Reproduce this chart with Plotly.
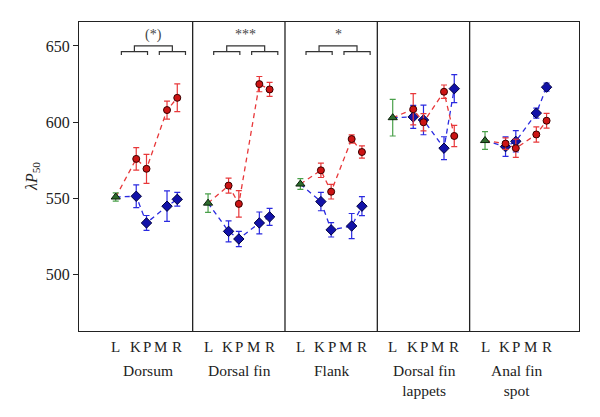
import plotly.graph_objects as go

# ---------------- data ----------------
regions = ["Dorsum", "Dorsal fin", "Flank", "Dorsal fin<br>lappets", "Anal fin<br>spot"]
letters = ["L", "K", "P", "M", "R"]
significance = ["(*)", "***", "*", "", ""]

L_mean = [551.0, 547.0, 559.5, 603.0, 588.0]
L_err = [2.7, 6.0, 3.5, 12.0, 5.8]

red_mean = [[576.0, 569.5, 608.0, 616.0],
            [558.5, 546.5, 625.0, 621.5],
            [568.5, 554.5, 589.0, 580.5],
            [608.5, 600.0, 620.0, 591.0],
            [586.0, 583.0, 592.0, 601.0]]
red_err = [[7.4, 9.5, 5.9, 9.1],
           [4.9, 8.7, 5.0, 4.6],
           [4.7, 4.8, 2.7, 4.0],
           [10.2, 5.6, 4.4, 7.0],
           [3.8, 6.0, 5.0, 4.8]]

blue_mean = [[551.5, 534.0, 545.0, 549.5],
             [528.5, 523.5, 534.0, 538.0],
             [548.0, 529.5, 532.0, 545.0],
             [603.5, 601.5, 583.0, 622.0],
             [584.0, 587.5, 606.0, 623.0]]
blue_err = [[7.5, 4.9, 10.0, 4.5],
            [6.9, 5.0, 7.2, 5.6],
            [6.0, 4.7, 8.2, 6.2],
            [7.5, 9.7, 7.5, 9.2],
            [6.4, 7.0, 3.3, 2.6]]

y_ticks = [500, 550, 600, 650]

# ---------------- layout helpers ----------------
GROUP_STEP = 9
pos_offsets = [0, 2, 3, 5, 6]             # L, K, P, M, R positions inside a group
label_offsets = [0, 1.9, 3.05, 4.4, 6.0]  # where the letters are written
FONT = "Liberation Serif"

RED_LINE = "#e8383a"
RED_FILL = "#cc1414"
BLUE_LINE = "#2a2ae0"
BLUE_FILL = "#1212a8"
GREEN_BAR = "#4aa04a"
GREEN_FILL = "#2d6b2d"

fig = go.Figure()

for g in range(len(regions)):
    base = g * GROUP_STEP
    xs = [base + o for o in pos_offsets]
    # blue series
    fig.add_trace(go.Scatter(
        x=xs, y=[L_mean[g]] + blue_mean[g], mode="lines",
        line=dict(color=BLUE_LINE, width=1.3, dash="5px,4px"),
        hoverinfo="skip", showlegend=False))
    fig.add_trace(go.Scatter(
        x=xs[1:], y=blue_mean[g], mode="markers",
        marker=dict(symbol="diamond", size=8, color=BLUE_FILL,
                    line=dict(color="#000040", width=1)),
        error_y=dict(type="data", array=blue_err[g], color=BLUE_LINE,
                     thickness=1.2, width=3),
        showlegend=False))
    # red series
    fig.add_trace(go.Scatter(
        x=xs, y=[L_mean[g]] + red_mean[g], mode="lines",
        line=dict(color=RED_LINE, width=1.3, dash="5px,4px"),
        hoverinfo="skip", showlegend=False))
    fig.add_trace(go.Scatter(
        x=xs[1:], y=red_mean[g], mode="markers",
        marker=dict(symbol="circle", size=7, color=RED_FILL,
                    line=dict(color="#3a0000", width=1)),
        error_y=dict(type="data", array=red_err[g], color=RED_LINE,
                     thickness=1.2, width=3),
        showlegend=False))
    # green L
    fig.add_trace(go.Scatter(
        x=[xs[0]], y=[L_mean[g]], mode="markers",
        marker=dict(symbol="triangle-up", size=8, color=GREEN_FILL,
                    line=dict(color="#0a200a", width=1)),
        error_y=dict(type="data", array=[L_err[g]], color=GREEN_BAR,
                     thickness=1.2, width=3),
        showlegend=False))

    # letters under the axis
    for lt, lo in zip(letters, label_offsets):
        fig.add_annotation(x=base + lo, y=0, xref="x", yref="paper",
                           text=lt, showarrow=False, yanchor="middle",
                           yshift=-16, font=dict(family=FONT, size=15, color="#222"))
    # group label
    fig.add_annotation(x=base + 3.1, y=0, xref="x", yref="paper",
                       text=regions[g], showarrow=False, yanchor="top",
                       yshift=-29, font=dict(family=FONT, size=15.5, color="#222"))

    # divider
    if g > 0:
        fig.add_shape(type="line", x0=base - 1.5, x1=base - 1.5, y0=0, y1=1,
                      xref="x", yref="paper", line=dict(color="#222", width=1.3))

    # significance brackets
    if significance[g]:
        lc = dict(color="#333", width=1.2)
        y_small, y_tick, y_big = 646.3, 644.0, 650.0
        for a, b in [(0.55, 3.1), (4.25, 6.8)]:
            fig.add_shape(type="path",
                          path=f"M {base+a},{y_tick} L {base+a},{y_small} L {base+b},{y_small} L {base+b},{y_tick}",
                          xref="x", yref="y", line=lc)
        ba, bb = 1.82, 5.52
        fig.add_shape(type="path",
                      path=f"M {base+ba},{y_small} L {base+ba},{y_big} L {base+bb},{y_big} L {base+bb},{y_small}",
                      xref="x", yref="y", line=lc)
        fig.add_annotation(x=base + (ba + bb) / 2, y=657.5, xref="x", yref="y",
                           text=significance[g], showarrow=False,
                           font=dict(family=FONT, size=14, color="#444"))

# y-axis title
fig.add_annotation(x=0, y=0.5, xref="paper", yref="paper", xshift=-58,
                   text="<i>λP</i><sub>50</sub>", textangle=-90, showarrow=False,
                   font=dict(family=FONT, size=16, color="#222"))

# page body has an 8px margin, so the figure is shifted by 8px
fig.update_layout(
    width=592, height=409,
    margin=dict(l=71, r=21, t=14, b=86),
    paper_bgcolor="white", plot_bgcolor="white",
    showlegend=False,
    xaxis=dict(range=[-3.58, 45.16], showgrid=False, zeroline=False,
               showticklabels=False, ticks="", showline=True, mirror=True,
               linecolor="#222", linewidth=1.3, fixedrange=True),
    yaxis=dict(range=[463.2, 665.7], showgrid=False, zeroline=False,
               tickvals=y_ticks, ticks="outside", ticklen=5, tickcolor="#222",
               tickfont=dict(family=FONT, size=16, color="#222"),
               showline=True, mirror=True, linecolor="#222", linewidth=1.3,
               fixedrange=True),
)

fig.write_html("out.html")
